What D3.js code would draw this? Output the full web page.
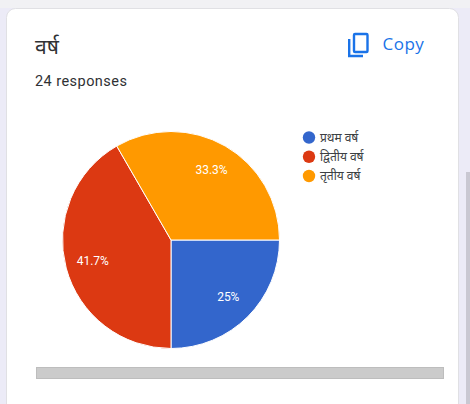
<!DOCTYPE html>
<html>
<head>
<meta charset="utf-8">
<script src="https://cdnjs.cloudflare.com/ajax/libs/d3/7.8.5/d3.min.js"></script>
<style>
html, body { margin: 0; padding: 0; background: #fff; overflow: hidden; }
text { font-family: Roboto, "Noto Sans", sans-serif; }
</style>
</head>
<body>
<div id="chart"></div>
<script>
var categories = ["प्रथम वर्ष", "द्वितीय वर्ष", "तृतीय वर्ष"];
var counts = [6, 10, 8];
var percentLabels = ["25%", "41.7%", "33.3%"];
var colors = ["#3366cc", "#dc3912", "#ff9900"];

var width = 470, height = 404;

var svg = d3.select("#chart").append("svg")
    .attr("width", width)
    .attr("height", height)
    .style("display", "block");

// page and card
svg.append("rect").attr("width", width).attr("height", height).attr("fill", "#ecebf7");
svg.append("rect").attr("width", width).attr("height", 8).attr("fill", "#f1f1f4");
svg.append("rect")
    .attr("x", 6.5).attr("y", 8.5)
    .attr("width", 452).attr("height", 410)
    .attr("rx", 9)
    .attr("fill", "#fff")
    .attr("stroke", "#e0e0e4");
svg.append("rect").attr("x", 466).attr("y", 172).attr("width", 4).attr("height", 232).attr("fill", "#c9c8d2");

svg.append("text").attr("x", 35).attr("y", 54)
    .attr("font-size", 21).attr("fill", "#303134").text("वर्ष");
svg.append("text").attr("x", 35).attr("y", 86)
    .attr("font-size", 14.5).attr("letter-spacing", 0.45).attr("fill", "#2f3134").text("24 responses");

// copy button
var copy = svg.append("g").attr("transform", "translate(348,33)")
    .attr("fill", "none").attr("stroke", "#1a73e8").attr("stroke-width", 2.4);
copy.append("rect").attr("x", 6).attr("y", 1).attr("width", 13.5).attr("height", 18).attr("rx", 1);
copy.append("path").attr("d", "M1.2 6V23H15");
svg.append("text").attr("x", 382.5).attr("y", 50)
    .attr("font-size", 17).attr("letter-spacing", 0.5)
    .style("font-family", "'Open Sans', sans-serif")
    .style("font-weight", 500)
    .attr("fill", "#1a73e8").text("Copy");

// pie
var pie = d3.pie().sort(null).startAngle(Math.PI / 2).endAngle(Math.PI * 2.5);
var arc = d3.arc().innerRadius(0).outerRadius(108.5);
var labelArc = d3.arc().innerRadius(81).outerRadius(81);

var pieG = svg.append("g").attr("transform", "translate(171,240)");
var slices = pie(counts);

pieG.selectAll("path.slice").data(slices).enter().append("path")
    .attr("class", "slice")
    .attr("d", arc)
    .attr("fill", function(d, i) { return colors[i]; })
    .attr("stroke", "#fff")
    .attr("stroke-width", 1);

pieG.selectAll("text.pct").data(slices).enter().append("text")
    .attr("class", "pct")
    .attr("transform", function(d) { return "translate(" + labelArc.centroid(d) + ")"; })
    .attr("dy", 4)
    .attr("text-anchor", "middle")
    .attr("font-size", 12)
    .attr("fill", "#fff")
    .text(function(d, i) { return percentLabels[i]; });

// legend
var legendY = d3.scalePoint().domain(categories).range([137.5, 176]);
var legend = svg.selectAll("g.legend").data(categories).enter().append("g")
    .attr("class", "legend")
    .attr("transform", function(d) { return "translate(309," + legendY(d) + ")"; });
legend.append("circle").attr("r", 6.2)
    .attr("fill", function(d, i) { return colors[i]; });
legend.append("text").attr("x", 11).attr("dy", 4)
    .attr("font-size", 12).attr("fill", "#3c4043")
    .text(function(d) { return d; });

// scrollbar strip under the chart
svg.append("rect").attr("x", 36.5).attr("y", 367.5)
    .attr("width", 407).attr("height", 11)
    .attr("fill", "#cbcbcb").attr("stroke", "#bdbdbd");
</script>
</body>
</html>
